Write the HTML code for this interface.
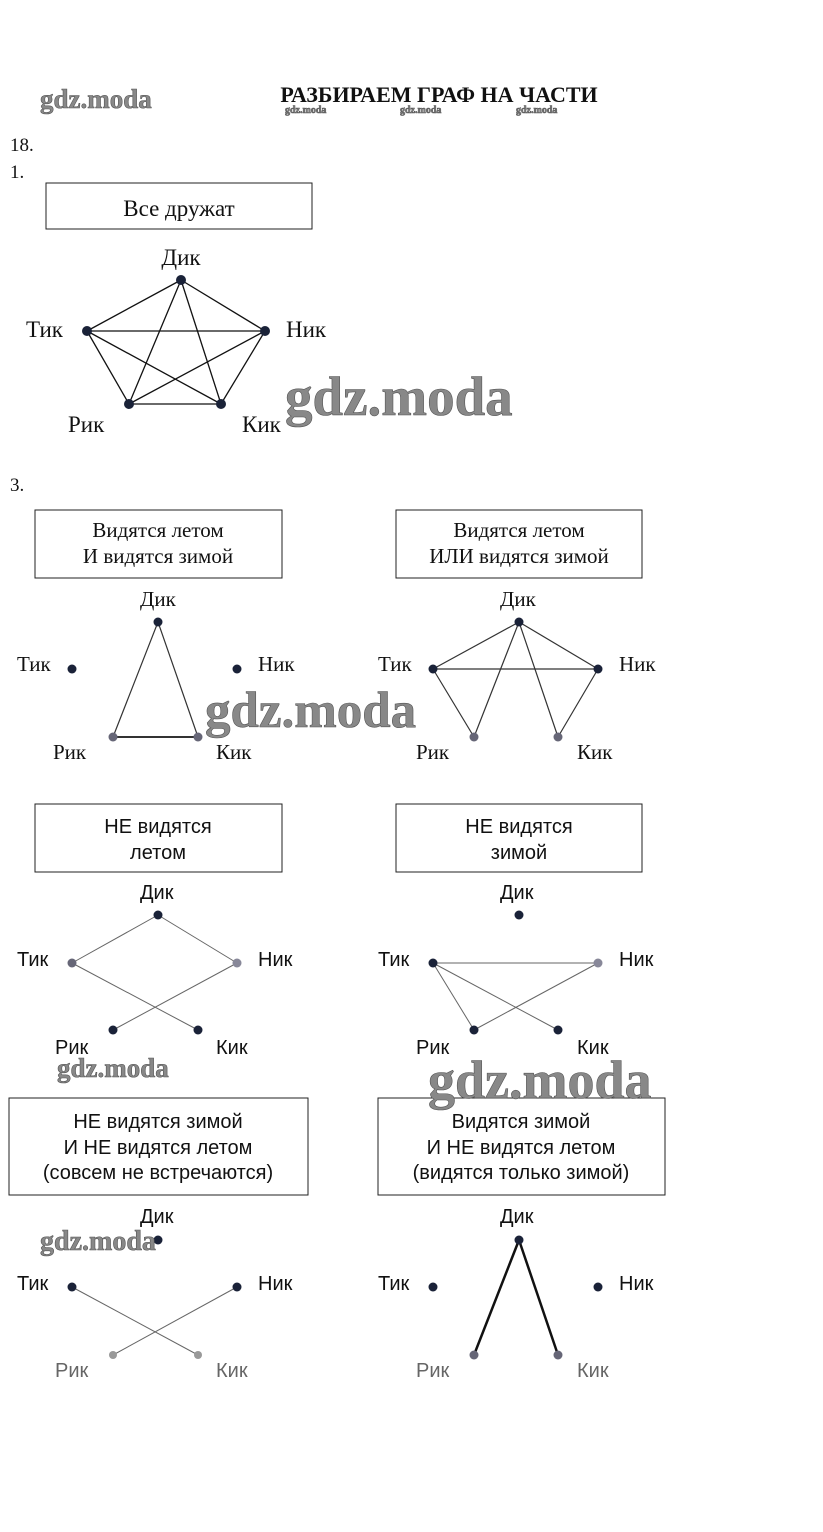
<!DOCTYPE html>
<html><head><meta charset="utf-8"><style>
html,body{margin:0;padding:0;background:#fff;width:823px;height:1532px;overflow:hidden}
svg{display:block}
.s{font-family:"Liberation Serif",serif;fill:#111}
.a{font-family:"Liberation Sans",sans-serif;fill:#111}
.w{font-family:"Liberation Serif",serif;font-weight:bold;fill:#888;stroke:#555;stroke-width:0.6}
</style></head><body>
<svg width="823" height="1532" viewBox="0 0 823 1532" xmlns="http://www.w3.org/2000/svg">
<text class="s" x="439" y="102" font-size="22" font-weight="bold" text-anchor="middle">РАЗБИРАЕМ ГРАФ НА ЧАСТИ</text>
<text class="w" x="40" y="108" font-size="27">gdz.moda</text>
<text class="w" x="285" y="113" font-size="10" stroke-width="0">gdz.moda</text>
<text class="w" x="400" y="113" font-size="10" stroke-width="0">gdz.moda</text>
<text class="w" x="516" y="113" font-size="10" stroke-width="0">gdz.moda</text>
<text class="s" x="10" y="151" font-size="19">18.</text>
<text class="s" x="10" y="178" font-size="19">1.</text>
<rect x="46" y="183" width="266" height="46" fill="none" stroke="#222" stroke-width="1"/>
<text class="s" x="179" y="216" font-size="23" text-anchor="middle">Все дружат</text>
<g stroke="#111" stroke-width="1.3">
<line x1="181" y1="280" x2="87" y2="331"/><line x1="181" y1="280" x2="265" y2="331"/>
<line x1="181" y1="280" x2="129" y2="404"/><line x1="181" y1="280" x2="221" y2="404"/>
<line x1="87" y1="331" x2="265" y2="331"/><line x1="87" y1="331" x2="129" y2="404"/>
<line x1="87" y1="331" x2="221" y2="404"/><line x1="265" y1="331" x2="129" y2="404"/>
<line x1="265" y1="331" x2="221" y2="404"/><line x1="129" y1="404" x2="221" y2="404"/>
</g>
<g fill="#1a2238"><circle cx="181" cy="280" r="5"/><circle cx="87" cy="331" r="5"/><circle cx="265" cy="331" r="5"/><circle cx="129" cy="404" r="5"/><circle cx="221" cy="404" r="5"/></g>
<g class="s" font-size="23"><text x="181" y="265" text-anchor="middle">Дик</text><text x="26" y="337">Тик</text><text x="286" y="337">Ник</text><text x="68" y="432">Рик</text><text x="242" y="432">Кик</text></g>
<text class="w" x="285" y="415" font-size="55">gdz.moda</text>
<text class="s" x="10" y="491" font-size="19">3.</text>

<g fill="none" stroke="#222" stroke-width="1">
<rect x="35" y="510" width="247" height="68"/><rect x="396" y="510" width="246" height="68"/>
<rect x="35" y="804" width="247" height="68"/><rect x="396" y="804" width="246" height="68"/>
<rect x="9" y="1098" width="299" height="97"/><rect x="378" y="1098" width="287" height="97"/>
</g>
<g class="s" font-size="21" text-anchor="middle" fill="#555">
<text x="158" y="537">Видятся летом</text><text x="158" y="563">И видятся зимой</text>
<text x="519" y="537">Видятся летом</text><text x="519" y="563">ИЛИ видятся зимой</text>
</g>
<g class="a" font-size="20" text-anchor="middle">
<text x="158" y="833">НЕ видятся</text><text x="158" y="859">летом</text>
<text x="519" y="833">НЕ видятся</text><text x="519" y="859">зимой</text>
<text x="158" y="1128">НЕ видятся зимой</text><text x="158" y="1154">И НЕ видятся летом</text><text x="158" y="1179">(совсем не встречаются)</text>
<text x="521" y="1128">Видятся зимой</text><text x="521" y="1154">И НЕ видятся летом</text><text x="521" y="1179">(видятся только зимой)</text>
</g>

<g stroke="#333" stroke-width="1.2">
<line x1="158" y1="622" x2="113" y2="737"/><line x1="158" y1="622" x2="198" y2="737"/><line x1="113" y1="737" x2="198" y2="737" stroke-width="2"/>
<line x1="433" y1="669" x2="598" y2="669"/><line x1="519" y1="622" x2="433" y2="669"/><line x1="519" y1="622" x2="598" y2="669"/>
<line x1="519" y1="622" x2="474" y2="737"/><line x1="519" y1="622" x2="558" y2="737"/><line x1="433" y1="669" x2="474" y2="737"/><line x1="598" y1="669" x2="558" y2="737"/>
</g>
<g fill="#1a2238">
<circle cx="158" cy="622" r="4.5"/><circle cx="72" cy="669" r="4.5"/><circle cx="237" cy="669" r="4.5"/><circle cx="113" cy="737" r="4.5" fill="#667"/><circle cx="198" cy="737" r="4.5" fill="#667"/>
<circle cx="519" cy="622" r="4.5"/><circle cx="433" cy="669" r="4.5"/><circle cx="598" cy="669" r="4.5"/><circle cx="474" cy="737" r="4.5" fill="#667"/><circle cx="558" cy="737" r="4.5" fill="#667"/>
</g>

<g stroke="#666" stroke-width="1">
<line x1="158" y1="915" x2="72" y2="963"/><line x1="158" y1="915" x2="237" y2="963"/><line x1="72" y1="963" x2="198" y2="1030"/><line x1="237" y1="963" x2="113" y2="1030"/>
<line x1="433" y1="963" x2="598" y2="963"/><line x1="433" y1="963" x2="474" y2="1030"/><line x1="433" y1="963" x2="558" y2="1030"/><line x1="598" y1="963" x2="474" y2="1030"/>
</g>
<g fill="#1a2238">
<circle cx="158" cy="915" r="4.5"/><circle cx="72" cy="963" r="4.5" fill="#667"/><circle cx="237" cy="963" r="4.5" fill="#889"/><circle cx="113" cy="1030" r="4.5"/><circle cx="198" cy="1030" r="4.5"/>
<circle cx="519" cy="915" r="4.5"/><circle cx="433" cy="963" r="4.5"/><circle cx="598" cy="963" r="4.5" fill="#889"/><circle cx="474" cy="1030" r="4.5"/><circle cx="558" cy="1030" r="4.5"/>
</g>

<g stroke="#666" stroke-width="1">
<line x1="72" y1="1287" x2="198" y2="1355"/><line x1="237" y1="1287" x2="113" y2="1355"/>
</g>
<g stroke="#111" stroke-width="2.5"><line x1="519" y1="1240" x2="474" y2="1355"/><line x1="519" y1="1240" x2="558" y2="1355"/></g>
<g fill="#1a2238">
<circle cx="158" cy="1240" r="4.5"/><circle cx="72" cy="1287" r="4.5"/><circle cx="237" cy="1287" r="4.5"/><circle cx="113" cy="1355" r="4" fill="#999"/><circle cx="198" cy="1355" r="4" fill="#999"/>
<circle cx="519" cy="1240" r="4.5"/><circle cx="433" cy="1287" r="4.5"/><circle cx="598" cy="1287" r="4.5"/><circle cx="474" cy="1355" r="4.5" fill="#667"/><circle cx="558" cy="1355" r="4.5" fill="#667"/>
</g>

<g class="s" font-size="21">
<text x="140" y="606">Дик</text><text x="17" y="671">Тик</text><text x="258" y="671">Ник</text><text x="53" y="759">Рик</text><text x="216" y="759">Кик</text>
<text x="500" y="606">Дик</text><text x="378" y="671">Тик</text><text x="619" y="671">Ник</text><text x="416" y="759">Рик</text><text x="577" y="759">Кик</text>
</g>
<g class="a" font-size="20">
<text x="140" y="899">Дик</text><text x="17" y="966">Тик</text><text x="258" y="966">Ник</text><text x="55" y="1054">Рик</text><text x="216" y="1054">Кик</text>
<text x="500" y="899">Дик</text><text x="378" y="966">Тик</text><text x="619" y="966">Ник</text><text x="416" y="1054">Рик</text><text x="577" y="1054">Кик</text>
<text x="140" y="1223">Дик</text><text x="17" y="1290">Тик</text><text x="258" y="1290">Ник</text><text x="55" y="1377" fill="#666">Рик</text><text x="216" y="1377" fill="#666">Кик</text>
<text x="500" y="1223">Дик</text><text x="378" y="1290">Тик</text><text x="619" y="1290">Ник</text><text x="416" y="1377" fill="#666">Рик</text><text x="577" y="1377" fill="#666">Кик</text>
</g>
<text class="w" x="205" y="727" font-size="51">gdz.moda</text>
<text class="w" x="57" y="1077" font-size="27">gdz.moda</text>
<text class="w" x="428" y="1098" font-size="54">gdz.moda</text>
<text class="w" x="40" y="1250" font-size="28">gdz.moda</text>
</svg>
</body></html>
